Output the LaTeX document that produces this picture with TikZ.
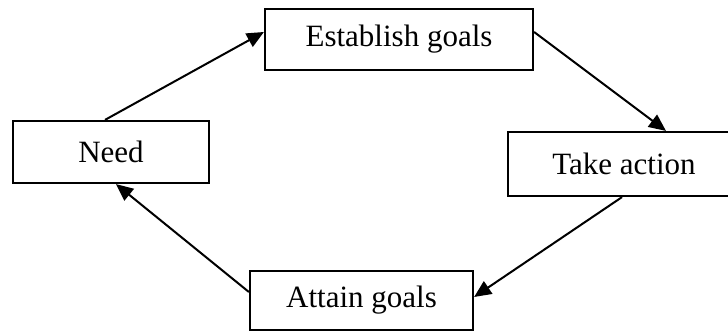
\documentclass[tikz,border=0pt]{standalone}
\usepackage{fontspec}
\setmainfont{Liberation Serif}
\usetikzlibrary{arrows.meta}
\begin{document}
\begin{tikzpicture}[x=1pt,y=1pt,
  box/.style={draw=black,line width=2.2pt,inner sep=0pt,font=\fontsize{31}{37}\selectfont},
  conn/.style={line width=2pt,-{Triangle[length=17pt,width=15pt]}}]
\useasboundingbox (0,0) rectangle (728,331);
\node[box,minimum width=268,minimum height=61] (est) at (399,291.5) {Establish goals};
\node[box,minimum width=196,minimum height=62] (need) at (111,179) {Need};
\node[box,minimum width=232,minimum height=64] (ta) at (624,167) {Take action};
\node[box,minimum width=223,minimum height=59] (att) at (361.5,30.5) {Attain goals};
\draw[conn] ([xshift=-6pt]need.north) -- ([yshift=7.5pt]est.west);
\draw[conn] ([yshift=7.5pt]est.east) -- ([xshift=42pt]ta.north);
\draw[conn] ([xshift=-2pt]ta.south) -- ([yshift=3.5pt]att.east);
\draw[conn] ([yshift=8.5pt]att.west) -- ([xshift=5pt]need.south);
\end{tikzpicture}
\end{document}
